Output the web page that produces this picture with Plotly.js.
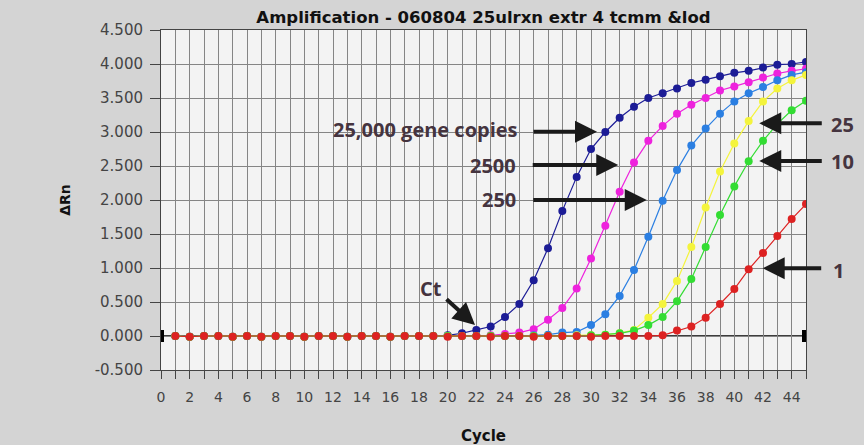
<!DOCTYPE html>
<html>
<head>
<meta charset="utf-8">
<script src="https://cdn.plot.ly/plotly-3.0.1.min.js"></script>
<style>html,body{margin:0;padding:0;background:#d4d4d4;}#chart{width:864px;height:445px;}</style>
</head>
<body>
<div id="chart"></div>
<script>
// ---- data (cycles 1..45) ----
const cycles = [1,2,3,4,5,6,7,8,9,10,11,12,13,14,15,16,17,18,19,20,21,22,23,24,25,26,27,28,29,30,31,32,33,34,35,36,37,38,39,40,41,42,43,44,45];

const copies25000 = [0.00,-0.01,0.00,0.00,-0.01,0.00,-0.01,0.00,0.00,-0.01,0.00,0.00,-0.01,0.00,0.00,-0.01,0.00,0.00,0.00,0.01,0.04,0.09,0.14,0.28,0.47,0.82,1.29,1.84,2.34,2.75,3.00,3.21,3.37,3.50,3.57,3.64,3.72,3.77,3.82,3.87,3.90,3.95,3.99,4.00,4.03];
const copies2500  = [0.00,-0.01,0.00,0.00,-0.01,0.00,-0.01,0.00,0.00,-0.01,0.00,0.00,-0.01,0.00,0.00,-0.01,0.00,0.00,0.00,0.00,0.00,0.00,0.01,0.03,0.05,0.10,0.24,0.41,0.70,1.14,1.62,2.12,2.55,2.87,3.09,3.27,3.40,3.50,3.61,3.67,3.73,3.80,3.86,3.90,3.93];
const copies250   = [0.00,-0.01,0.00,0.00,-0.01,0.00,-0.01,0.00,0.00,-0.01,0.00,0.00,-0.01,0.00,0.00,-0.01,0.00,0.00,0.00,0.00,0.00,0.00,0.00,0.00,0.00,0.01,0.02,0.05,0.06,0.16,0.32,0.59,0.97,1.46,1.99,2.44,2.80,3.05,3.27,3.45,3.57,3.66,3.76,3.84,3.88];
const copies25    = [0.00,-0.01,0.00,0.00,-0.01,0.00,-0.01,0.00,0.00,-0.01,0.00,0.00,-0.01,0.00,0.00,-0.01,0.00,0.00,0.00,0.00,0.00,0.00,0.00,0.00,0.00,0.00,0.00,0.00,0.01,0.01,0.02,0.04,0.09,0.27,0.47,0.81,1.31,1.89,2.42,2.83,3.16,3.45,3.64,3.76,3.84];
const copies10    = [0.00,-0.01,0.00,0.00,-0.01,0.00,-0.01,0.00,0.00,-0.01,0.00,0.00,-0.01,0.00,0.00,-0.01,0.00,0.00,0.00,0.00,0.00,0.00,0.00,0.00,0.00,0.00,0.00,0.00,0.00,0.01,0.02,0.04,0.08,0.16,0.28,0.51,0.84,1.31,1.78,2.20,2.57,2.87,3.12,3.32,3.46];
const copies1     = [0.00,-0.01,0.00,0.00,-0.01,0.00,-0.01,0.00,0.00,-0.01,0.00,0.00,-0.01,0.00,0.00,-0.01,0.00,0.00,0.00,-0.01,0.00,0.00,-0.01,0.00,0.00,-0.01,0.00,0.00,0.00,-0.01,0.00,0.00,0.00,0.00,0.01,0.08,0.14,0.27,0.47,0.69,0.98,1.22,1.47,1.72,1.94];

const seriesNames = ['25,000','2500','250','25','10','1'];
const seriesColors = ['#1c1c96','#ee22dd','#2b7fe2','#f4f43c','#33dd33','#dd2222'];
const seriesValues = [copies25000, copies2500, copies250, copies25, copies10, copies1];

const xTickVals = [0,1,2,3,4,5,6,7,8,9,10,11,12,13,14,15,16,17,18,19,20,21,22,23,24,25,26,27,28,29,30,31,32,33,34,35,36,37,38,39,40,41,42,43,44,45];
const xTickText = ['0','','2','','4','','6','','8','','10','','12','','14','','16','','18','','20','','22','','24','','26','','28','','30','','32','','34','','36','','38','','40','','42','','44',''];
const yTickVals = [-0.5,0,0.5,1,1.5,2,2.5,3,3.5,4,4.5];
const yTickText = ['-0.500','0.000','0.500','1.000','1.500','2.000','2.500','3.000','3.500','4.000','4.500'];

const traces = seriesValues.map((vals, i) => ({
  type: 'scatter', mode: 'lines+markers', name: seriesNames[i],
  x: cycles, y: vals,
  line: {color: seriesColors[i], width: 1.2},
  marker: {color: seriesColors[i], size: 8},
  cliponaxis: true, showlegend: false
}));

const labelFont = {family: 'Open Sans', size: 20, color: '#45343f', weight: 700};
const arrowCommon = {text: '', showarrow: true, arrowhead: 2, arrowsize: 1.1, arrowwidth: 4, arrowcolor: '#1a1a1a', axref: 'pixel', ayref: 'pixel', standoff: 0, startstandoff: 0, xref: 'x', yref: 'y'};
const gridCol = '#858585';

const layout = {
  width: 864, height: 445,
  paper_bgcolor: '#d4d4d4', plot_bgcolor: '#f3f3f3',
  margin: {l: 161, r: 58, t: 30, b: 75},
  title: {text: 'Amplification - 060804 25ulrxn extr 4 tcmm &lod', font: {family: 'DejaVu Sans', size: 16.5, color: '#111', weight: 'bold'}, x: 0.5, xref: 'paper', y: 1 - 17/445, yref: 'container', yanchor: 'middle'},
  xaxis: {
    range: [0, 45], tickmode: 'array', tickvals: xTickVals, ticktext: xTickText,
    ticks: 'outside', ticklen: 8, tickcolor: '#444', tickwidth: 1,
    showgrid: true, gridcolor: gridCol, gridwidth: 1,
    showline: true, linecolor: '#444', linewidth: 1, mirror: true, zeroline: false,
    tickfont: {family: 'DejaVu Sans', size: 14, color: '#444'}, ticklabelstandoff: 6,
    title: {text: 'Cycle', font: {family: 'DejaVu Sans', size: 15, color: '#111', weight: 'bold'}, standoff: 27}
  },
  yaxis: {
    range: [-0.5, 4.5], tickmode: 'array', tickvals: yTickVals, ticktext: yTickText, ticks: 'outside', ticklen: 10, tickcolor: '#444',
    showgrid: true, gridcolor: gridCol, gridwidth: 1,
    showline: true, linecolor: '#444', linewidth: 1, mirror: true, zeroline: false,
    tickfont: {family: 'DejaVu Sans', size: 15, color: '#444'}, ticklabelstandoff: 4,
    title: {text: 'ΔRn', font: {family: 'DejaVu Sans', size: 14, color: '#111', weight: 'bold'}, standoff: 20}
  },
  shapes: [
    {type: 'line', xref: 'x', yref: 'y', x0: 0, x1: 45, y0: 0, y1: 0, line: {color: '#000', width: 1.5}, layer: 'below'},
    {type: 'rect', xref: 'x', yref: 'y', xsizemode: 'pixel', ysizemode: 'pixel', xanchor: 0, yanchor: 0, x0: -1, x1: 3, y0: -6, y1: 6, fillcolor: '#000', line: {width: 0}},
    {type: 'rect', xref: 'x', yref: 'y', xsizemode: 'pixel', ysizemode: 'pixel', xanchor: 45, yanchor: 0, x0: -4, x1: 0, y0: -6, y1: 6, fillcolor: '#000', line: {width: 0}}
  ],
  annotations: [
    {text: '25,000 gene copies', xref: 'paper', yref: 'paper', x: 0.5566, y: 0.7059, xanchor: 'right', yanchor: 'middle', showarrow: false, font: labelFont},
    {text: '2500', xref: 'paper', yref: 'paper', x: 0.5540, y: 0.6029, xanchor: 'right', yanchor: 'middle', showarrow: false, font: labelFont},
    {text: '250', xref: 'paper', yref: 'paper', x: 0.5540, y: 0.5021, xanchor: 'right', yanchor: 'middle', showarrow: false, font: labelFont},
    {text: '25', xref: 'paper', yref: 'paper', x: 1.036, y: 0.7206, xanchor: 'left', yanchor: 'middle', showarrow: false, font: labelFont},
    {text: '10', xref: 'paper', yref: 'paper', x: 1.036, y: 0.6147, xanchor: 'left', yanchor: 'middle', showarrow: false, font: labelFont},
    {text: '1', xref: 'paper', yref: 'paper', x: 1.038, y: 0.292, xanchor: 'left', yanchor: 'middle', showarrow: false, font: labelFont},
    {text: 'Ct', xref: 'paper', yref: 'paper', x: 0.4186, y: 0.2403, xanchor: 'center', yanchor: 'middle', showarrow: false, font: labelFont},
    Object.assign({x: 30.42, y: 3.004, ax: -65, ay: 0}, arrowCommon),
    Object.assign({x: 31.90, y: 2.515, ax: -87, ay: 0}, arrowCommon),
    Object.assign({x: 33.89, y: 2.0, ax: -115, ay: 0}, arrowCommon),
    Object.assign({x: 41.74, y: 3.128, ax: 64, ay: 0}, arrowCommon),
    Object.assign({x: 41.74, y: 2.574, ax: 64, ay: 0}, arrowCommon),
    Object.assign({x: 41.98, y: 0.996, ax: 60, ay: 0}, arrowCommon),
    Object.assign({x: 21.91, y: 0.162, ax: -30, ay: -27}, arrowCommon)
  ]
};

Plotly.newPlot('chart', traces, layout, {staticPlot: true, displayModeBar: false});
</script>
</body>
</html>
